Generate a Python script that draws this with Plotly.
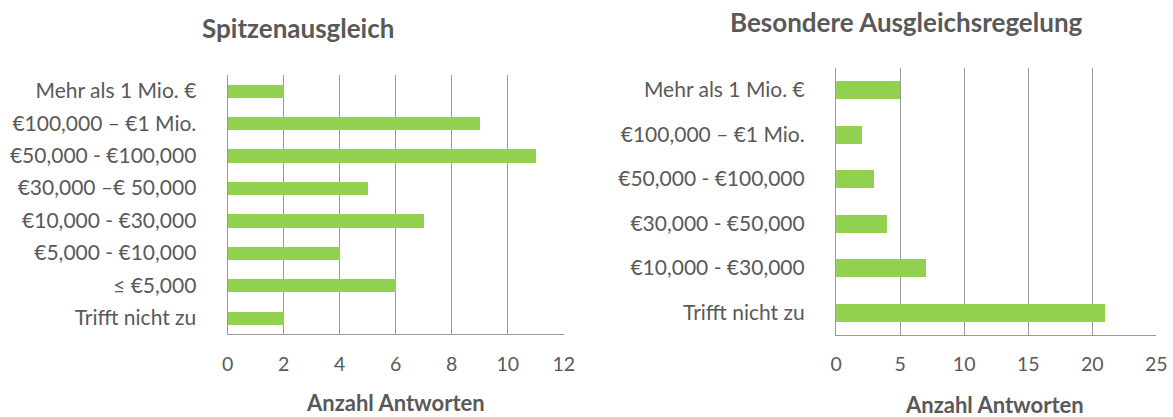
import plotly.graph_objects as go

cats_left = ["Mehr als 1 Mio. €", "€100,000 – €1 Mio.", "€50,000 - €100,000", "€30,000 –€ 50,000",
             "€10,000 - €30,000", "€5,000 - €10,000", "≤ €5,000", "Trifft nicht zu"]
vals_left = [2, 9, 11, 5, 7, 4, 6, 2]

cats_right = ["Mehr als 1 Mio. €", "€100,000 – €1 Mio.", "€50,000 - €100,000", "€30,000 - €50,000",
              "€10,000 - €30,000", "Trifft nicht zu"]
vals_right = [5, 2, 3, 4, 7, 21]

title_left = "Spitzenausgleich"
title_right = "Besondere Ausgleichsregelung"
axis_title = "Anzahl Antworten"

GREEN = "#92D050"
TXT = "#595959"
GRID = "#999999"
FONT = "Lato"

W, H = 1173, 417
fig = go.Figure()
fig.add_trace(go.Bar(y=cats_left, x=vals_left, orientation="h", marker_color=GREEN,
                     marker_line_width=0, width=0.41, xaxis="x", yaxis="y"))
fig.add_trace(go.Bar(y=cats_right, x=vals_right, orientation="h", marker_color=GREEN,
                     marker_line_width=0, width=0.4, xaxis="x2", yaxis="y2"))

def xax(dom, rng, dt, anchor):
    return dict(domain=dom, range=rng, dtick=dt, tick0=0, showgrid=True, gridcolor=GRID, gridwidth=1.4,
                zeroline=False, showline=True, linecolor=GRID, linewidth=1.4,
                tickfont=dict(family=FONT, size=19.5, color=TXT), ticks="", ticklabelstandoff=12,
                anchor=anchor, fixedrange=True)

def yax(dom, cats, anchor):
    return dict(domain=dom, categoryorder="array", categoryarray=list(reversed(cats)),
                showgrid=False, zeroline=False, showline=True, linecolor=GRID, linewidth=1.4,
                tickfont=dict(family=FONT, size=21, color=TXT), ticks="", ticklabelstandoff=26,
                anchor=anchor, fixedrange=True)

fig.update_layout(
    width=W, height=H, margin=dict(l=0, r=0, t=0, b=0), autosize=False,
    paper_bgcolor="white", plot_bgcolor="white", showlegend=False, bargap=0,
    xaxis=xax([225 / W, 566 / W], [0, 12], 2, "y"),
    yaxis=yax([1 - 334 / H, 1 - 74.5 / H], cats_left, "x"),
    xaxis2=xax([842.3 / W, 1167.2 / W], [0, 25], 5, "y2"),
    yaxis2=yax([1 - 334.5 / H, 1 - 67.5 / H], cats_right, "x2"),
    annotations=[
        dict(text="<b>%s</b>" % title_left, x=296.5 / W, y=1 - 28 / H, xref="paper", yref="paper",
             showarrow=False, font=dict(family=FONT, size=26, color=TXT), xanchor="center", yanchor="middle"),
        dict(text="<b>%s</b>" % title_right, x=914 / W, y=1 - 22 / H, xref="paper", yref="paper",
             showarrow=False, font=dict(family=FONT, size=26, color=TXT), xanchor="center", yanchor="middle"),
        dict(text="<b>%s</b>" % axis_title, x=395.5 / W, y=1 - 402 / H, xref="paper", yref="paper",
             showarrow=False, font=dict(family=FONT, size=22, color=TXT), xanchor="center", yanchor="middle"),
        dict(text="<b>%s</b>" % axis_title, x=1003.5 / W, y=1 - 404 / H, xref="paper", yref="paper",
             showarrow=False, font=dict(family=FONT, size=22, color=TXT), xanchor="center", yanchor="middle"),
    ],
)

fig.write_html("out.html", config={"displayModeBar": False, "responsive": False},
               post_script=("document.documentElement.style.margin='0';document.documentElement.style.overflow='hidden';"
                            "document.body.style.margin='0';document.body.style.overflow='hidden';"))
